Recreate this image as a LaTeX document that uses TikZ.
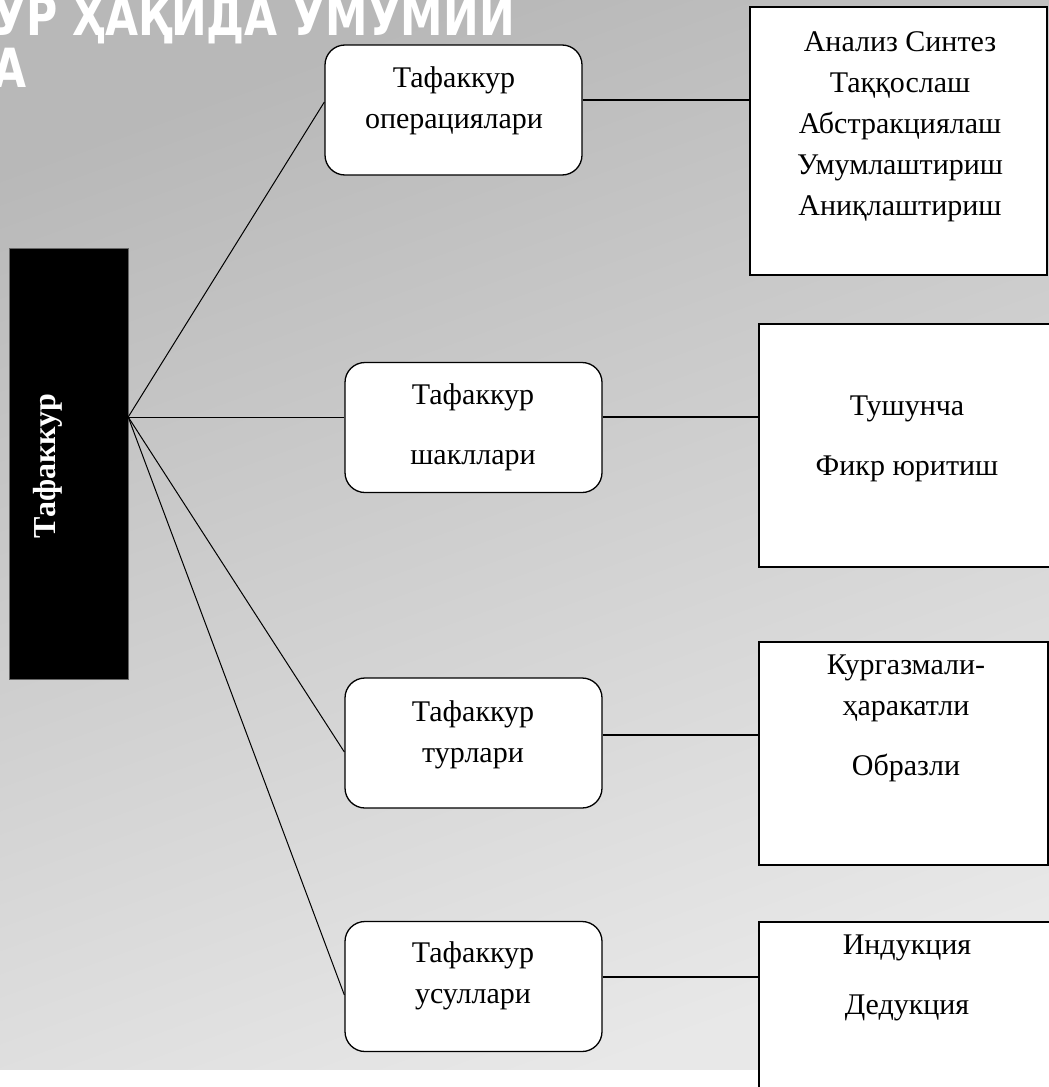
\documentclass[tikz,border=0pt]{standalone}
\usepackage{fontspec}
\setmainfont{Liberation Serif}
\newfontfamily\titlefont[FakeStretch=0.79]{DejaVu Sans}
\usetikzlibrary{positioning}

\begin{document}
\begin{tikzpicture}[x=1pt,y=-1pt,root/.style={rectangle, draw=black!60, fill=black, minimum width=119pt, minimum height=431pt, inner sep=0pt},root_txt/.style={text=white, font=\fontsize{32}{38}\selectfont\bfseries, rotate=90, inner sep=0pt},kind/.style={rectangle, rounded corners=20pt, draw=black, fill=white, line width=1.3pt, minimum width=257pt, minimum height=130pt, inner sep=0pt},items/.style={rectangle, draw=black, fill=white, line width=1.8pt, inner sep=0pt},txt/.style={anchor=north, align=center, inner sep=0pt, font=\fontsize{30}{41}\selectfont},title_txt/.style={anchor=base west, inner sep=0pt, text=white, font=\titlefont\bfseries\fontsize{54}{52}\selectfont},spoke/.style={draw=black, line width=1pt},link/.style={draw=black, line width=2pt},]
            \useasboundingbox (0,0) rectangle (1049,1087);
            \fill[white] (0,0) rectangle (1049,1087);
            \shade[top color=black!28, bottom color=black!9, shading angle=20] (0,0) rectangle (1049,1069);
            \node[title_txt] (title1) at (-7,35) {УР ҲАҚИДА УМУМИЙ};
            \node[title_txt] (title2) at (-7,87) {А};
            \node[root] (think) at (68.5,463.5) {};
            \node[root_txt] (think_txt) at (48,466) {Тафаккур};
            \coordinate (hub) at ([yshift=46.5pt]think.east);
            \node[kind] (ops) at (453.5,110) {};
            \node[txt] (ops_txt) at (454,66) {Тафаккур\\операциялари};
            \node[kind] (forms) at (473.5,427.5) {};
            \node[txt] (forms_txt) at (473,383) {Тафаккур\\[19pt]шакллари};
            \node[kind] (types) at (473.5,743) {};
            \node[txt] (types_txt) at (473,700) {Тафаккур\\турлари};
            \node[kind] (ways) at (473.5,986.5) {};
            \node[txt] (ways_txt) at (473,941) {Тафаккур\\усуллари};
            \node[items, minimum width=297pt, minimum height=268pt] (ops_list) at (898.5,141) {};
            \node[txt] (ops_list_txt) at (900,31) {Анализ Синтез\\Таққослаш\\Абстракциялаш\\Умумлаштириш\\Аниқлаштириш};
            \node[items, minimum width=296pt, minimum height=243pt] (forms_list) at (907,445.5) {};
            \node[txt] (forms_list_txt) at (907,396) {Тушунча\\[19pt]Фикр юритиш};
            \node[items, minimum width=289pt, minimum height=223pt] (types_list) at (903.5,753.5) {};
            \node[txt] (types_list_txt) at (906,655) {Кургазмали-\\ҳаракатли\\[19pt]Образли};
            \node[items, minimum width=301pt, minimum height=178pt] (ways_list) at (909.5,1011) {};
            \node[txt] (ways_list_txt) at (907,935) {Индукция\\[19pt]Дедукция};
            \draw[spoke] (hub) -- ([yshift=8pt]ops.west);
            \draw[spoke] (hub) -- (hub -| forms.west);
            \draw[spoke] (hub) -- ([yshift=-9pt]types.west);
            \draw[spoke] (hub) -- ([yshift=-8.5pt]ways.west);
            \draw[link] ([yshift=10pt]ops.east) -- ([yshift=10pt]ops.east -| ops_list.west);
            \draw[link] ([yshift=10.5pt]forms.east) -- ([yshift=10.5pt]forms.east -| forms_list.west);
            \draw[link] ([yshift=8pt]types.east) -- ([yshift=8pt]types.east -| types_list.west);
            \draw[link] ([yshift=9.5pt]ways.east) -- ([yshift=9.5pt]ways.east -| ways_list.west);
        \end{tikzpicture}
\end{document}
